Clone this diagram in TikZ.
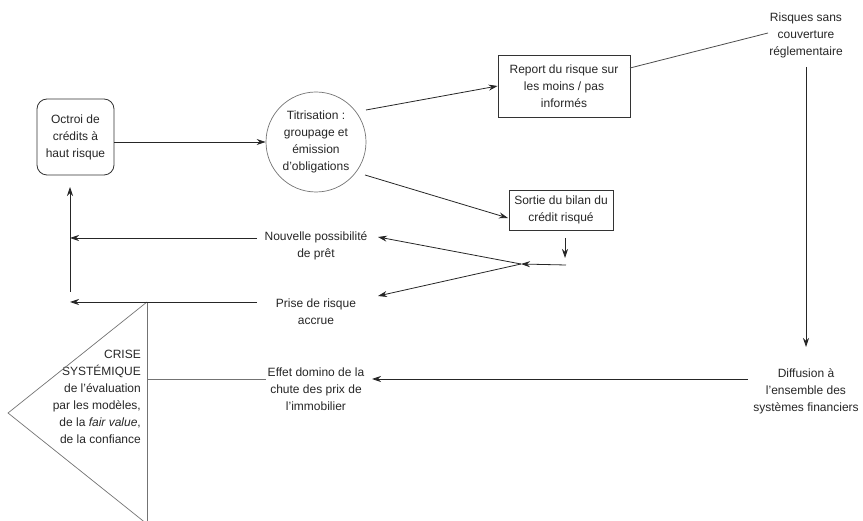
\documentclass[tikz,border=0pt]{standalone}
\usepackage{fontspec}
\setmainfont{Liberation Sans}
\usetikzlibrary{arrows.meta}
\begin{document}
\begin{tikzpicture}[x=1pt,y=-1pt,
  txt/.style={font=\fontsize{12}{17}\selectfont, align=center, inner sep=0pt, text=black!85},
  boxnode/.style={txt, draw=black!80, line width=0.8pt},
  arr/.style={draw=black!85, line width=0.8pt, -{Stealth[length=9pt,width=6pt]}},
  ln/.style={draw=black!85, line width=0.8pt},
  gln/.style={draw=black!55, line width=0.7pt}]
\useasboundingbox (0,0) rectangle (863,521);

% nodes
\node[boxnode, rounded corners=10pt, minimum width=77pt, minimum height=76pt] (oct) at (75.5,137) {Octroi de\\crédits à\\haut risque};
\node[txt, draw=black!55, line width=0.7pt, circle, minimum size=100pt] (tit) at (316,142) {Titrisation :\\groupage et\\émission\\d’obligations};
\node[boxnode, minimum width=132pt, minimum height=62pt] (rep) at (564,86) {Report du risque sur\\les moins / pas\\informés};
\node[boxnode, minimum width=104pt, minimum height=40pt] (sor) at (561,210) {Sortie du bilan du\\crédit risqué};
\node[txt] (nou) at (316,246) {Nouvelle possibilité\\de prêt};
\node[txt] (pri) at (316,312) {Prise de risque\\accrue};
\node[txt] (eff) at (316,389) {Effet domino de la\\chute des prix de\\l’immobilier};
\node[txt] (dif) at (806,391) {Diffusion à\\l’ensemble des\\systèmes financiers};
\node[txt] (ris) at (806,35) {Risques sans\\couverture\\réglementaire};
\node[txt, align=right, anchor=east] (cri) at (141,397) {CRISE\\SYSTÉMIQUE\\de l’évaluation\\par les modèles,\\de la \textit{fair value},\\de la confiance};

% triangle
\coordinate (ta) at (147,302);
\coordinate (tl) at (8,413);
\coordinate (tb) at (147,524);
\draw[gln] (ta) -- (tl) -- (tb);
\draw[gln] (ta) -- (tb);

% free-end coordinates
\coordinate (t1) at (366,110);
\coordinate (t2) at (365,175);
\coordinate (s2) at (508,218);
\coordinate (d1) at (565,238);
\coordinate (d2) at (565,258);
\coordinate (h1) at (566,265);
\coordinate (j) at (521,264);
\coordinate (n1) at (378,237);
\coordinate (p1) at (378,296);
\coordinate (n0) at (257,238);
\coordinate (nl) at (70,238);
\coordinate (p0) at (257,302);
\coordinate (pl) at (70,302);
\coordinate (v0) at (70,292);
\coordinate (v1) at (70,187);
\coordinate (e0) at (147,379);
\coordinate (e1) at (266,379);
\coordinate (f0) at (748,379);
\coordinate (f1) at (372,379);
\coordinate (r0) at (630,68);
\coordinate (r1) at (768,33);
\coordinate (q0) at (806,67);
\coordinate (q1) at (806,347);

% connectors
\draw[arr] (oct.east |- tit.west) -- (tit.west);
\draw[arr] (t1) -- (rep.west);
\draw[arr] (t2) -- (s2);
\draw[arr] (d1) -- (d2);
\draw[arr] (h1) -- (j);
\draw[arr] (j) -- (n1);
\draw[arr] (j) -- (p1);
\draw[arr] (n0) -- (nl);
\draw[arr] (p0) -- (pl);
\draw[arr] (v0) -- (v1);
\draw[gln] (e0) -- (e1);
\draw[arr] (f0) -- (f1);
\draw[ln, draw=black!70] (r0) -- (r1);
\draw[arr] (q0) -- (q1);
\end{tikzpicture}
\end{document}
